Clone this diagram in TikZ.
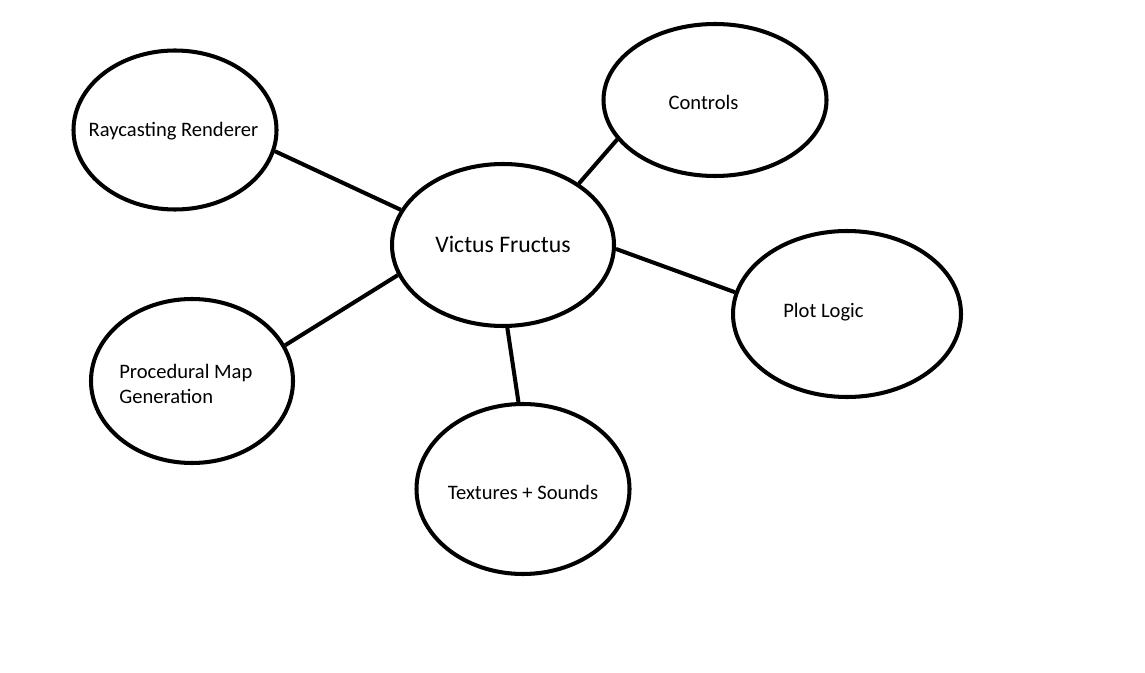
\documentclass[tikz,border=0pt]{standalone}
\usepackage{fontspec}
\setmainfont{Carlito}
\usepackage{tikz}
\usetikzlibrary{shapes.geometric}

\tikzset{
  bubble/.style = {ellipse,
      draw = black,
      line width = 2.3pt,
      inner sep = 0pt},
  caption/.style = {inner sep = 0pt,
      font = \fontsize{11.7}{14.7}\selectfont},
  link/.style = {line width = 2.3pt}
}

\begin{document}
\begin{tikzpicture}
\useasboundingbox (0,0) rectangle (22.9,-13.46);

% center
\node[bubble,
    minimum width = 4.44cm,
    minimum height = 3.24cm] (victus) at (10.06,-4.9) {};
\node[caption,
    font = \fontsize{13.5}{16}\selectfont] (victus-t) at (10.06,-4.88) {Victus Fructus};

% outer ring
\node[bubble,
    minimum width = 4.06cm,
    minimum height = 3.18cm] (ray) at (3.5,-2.6) {};
\node[caption] (ray-t) at (3.47,-2.62) {Raycasting Renderer};

\node[bubble,
    minimum width = 4.46cm,
    minimum height = 3.04cm] (controls) at (14.3,-2.0) {};
\node[caption] (controls-t) at (14.07,-2.04) {Controls};

\node[bubble,
    minimum width = 4.56cm,
    minimum height = 3.32cm] (plot) at (16.94,-6.28) {};
\node[caption] (plot-t) at (16.47,-6.24) {Plot Logic};

\node[bubble,
    minimum width = 4.04cm,
    minimum height = 3.28cm] (proc) at (3.84,-7.62) {};
\node[caption,
    align = left,
    anchor = west] (proc-t) at (2.38,-7.68) {Procedural Map\\Generation};

\node[bubble,
    minimum width = 4.26cm,
    minimum height = 3.4cm] (tex) at (10.46,-9.78) {};
\node[caption] (tex-t) at (10.46,-9.84) {Textures + Sounds};

% spokes
\draw[link] (ray.-12) -- (victus.161);
\draw[link] (controls.-158) -- (victus.39);
\draw[link] (victus.-2) -- (plot.169.5);
\draw[link] (victus.-164) -- (proc.21);
\draw[link] (victus.-87) -- (tex.93);

\end{tikzpicture}
\end{document}
